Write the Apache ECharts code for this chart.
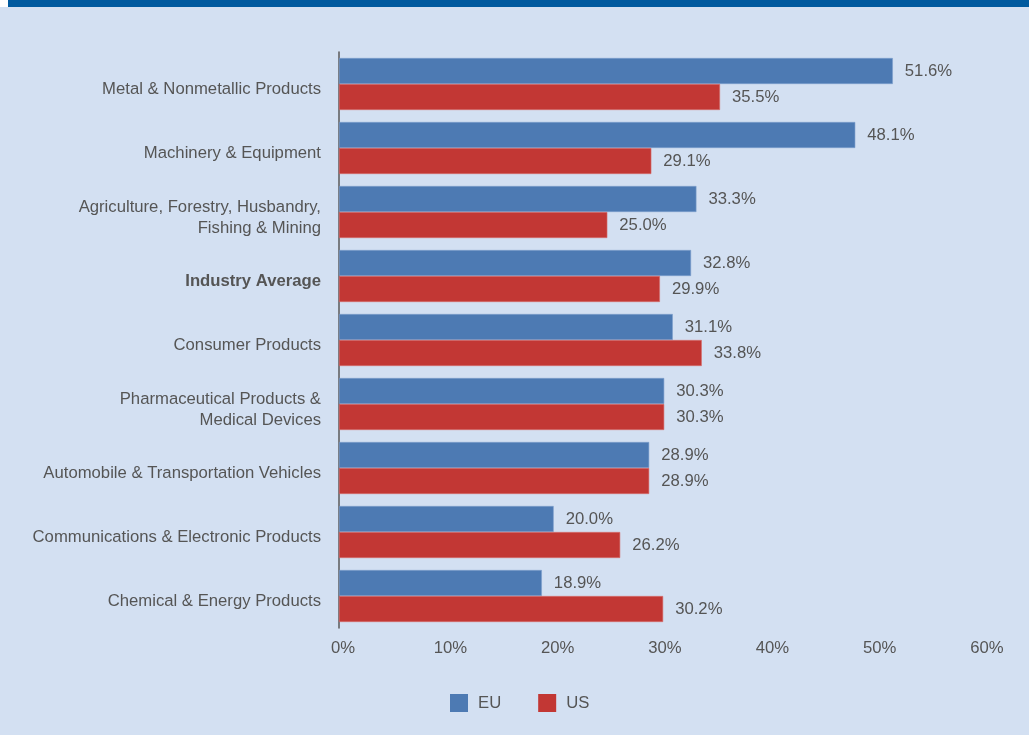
<!DOCTYPE html>
<html>
<head>
<meta charset="utf-8">
<script src="https://cdn.jsdelivr.net/npm/echarts@6/dist/echarts.min.js"></script>
<style>
  html, body { margin: 0; padding: 0; background: #d3e0f2; }
  #chart { width: 1029px; height: 735px; }
</style>
</head>
<body>
<div id="chart"></div>
<script>
// Share of firms by sector, EU vs US (percent)
const categories = [
  'Metal & Nonmetallic Products',
  'Machinery & Equipment',
  'Agriculture, Forestry, Husbandry,\nFishing & Mining',
  'Industry Average',
  'Consumer Products',
  'Pharmaceutical Products &\nMedical Devices',
  'Automobile & Transportation Vehicles',
  'Communications & Electronic Products',
  'Chemical & Energy Products'
];
const euValues = [51.6, 48.1, 33.3, 32.8, 31.1, 30.3, 28.9, 20.0, 18.9];
const usValues = [35.5, 29.1, 25.0, 29.9, 33.8, 30.3, 28.9, 26.2, 30.2];
const seriesNames = ['EU', 'US'];
const highlighted = 'Industry Average';

const FONT = '"Liberation Sans", Arial, sans-serif';
const FS = 16.7;
const TEXT = '#555555';

const chart = echarts.init(document.getElementById('chart'), null, { renderer: 'canvas' });

const valueLabel = {
  show: true,
  position: 'right',
  distance: 12,
  color: TEXT,
  fontFamily: FONT,
  fontSize: FS,
  formatter: p => p.value.toFixed(1) + '%'
};

chart.setOption({
  backgroundColor: '#d3e0f2',
  animation: false,
  graphic: [
    { type: 'rect', left: 8, top: 0, shape: { width: 1021, height: 7 }, style: { fill: '#005a9f' } },
    { type: 'rect', left: 0, top: 0, shape: { width: 8, height: 7 }, style: { fill: '#ffffff' } }
  ],
  grid: { left: 339, right: 46, top: 52, bottom: 107, containLabel: false, outerBoundsMode: 'none' },
  legend: {
    data: seriesNames,
    top: 694,
    left: 450,
    padding: 0,
    icon: 'rect',
    itemWidth: 18,
    itemHeight: 18,
    itemGap: 37,
    itemStyle: { borderWidth: 0 },
    textStyle: { color: TEXT, fontFamily: FONT, fontSize: FS, padding: [0, 0, 0, 5] }
  },
  xAxis: {
    type: 'value',
    min: 0,
    max: 60,
    interval: 10,
    axisLine: { show: false },
    axisTick: { show: false },
    splitLine: { show: false },
    axisLabel: {
      formatter: '{value}%',
      color: TEXT,
      fontFamily: FONT,
      fontSize: FS,
      margin: 12,
      padding: [0, 0, 0, 8]
    }
  },
  yAxis: {
    type: 'category',
    inverse: true,
    data: categories,
    axisLine: { show: true, lineStyle: { color: '#5a5a5a', width: 1.5 } },
    axisTick: { show: false },
    axisLabel: {
      color: TEXT,
      fontFamily: FONT,
      fontSize: FS,
      lineHeight: 21,
      margin: 18,
      align: 'right',
      padding: [11, 0, 0, 0],
      formatter: v => v === highlighted ? '{b|' + v + '}' : v,
      rich: {
        b: { fontWeight: 'bold', color: TEXT, fontFamily: FONT, fontSize: FS }
      }
    }
  },
  series: [
    {
      name: seriesNames[0],
      type: 'bar',
      data: euValues,
      barGap: '0%',
      barCategoryGap: '18.75%',
      itemStyle: { color: '#4d7ab3', borderColor: '#7d9fcc', borderWidth: 0.6 },
      label: valueLabel
    },
    {
      name: seriesNames[1],
      type: 'bar',
      data: usValues,
      barGap: '0%',
      barCategoryGap: '18.75%',
      itemStyle: { color: '#c23734', borderColor: '#d9706e', borderWidth: 0.6 },
      label: valueLabel
    }
  ]
});
</script>
</body>
</html>
